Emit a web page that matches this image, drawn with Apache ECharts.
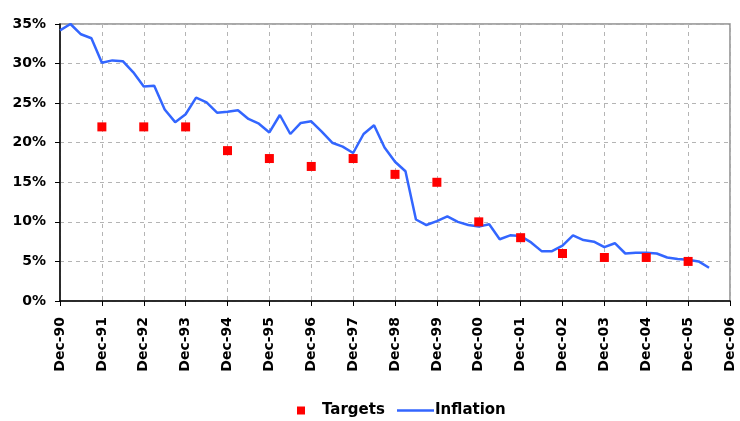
<!DOCTYPE html>
<html>
<head>
<meta charset="utf-8">
<script src="https://cdn.jsdelivr.net/npm/echarts@6/dist/echarts.min.js"></script>
<style>
  html, body { margin: 0; padding: 0; background: #fff; }
  #main { width: 740px; height: 421px; }
</style>
</head>
<body>
<div id="main"></div>
<script>
// year ticks on the x axis (one every 4 quarters)
var tickLabels = ['Dec-90', 'Dec-91', 'Dec-92', 'Dec-93', 'Dec-94', 'Dec-95', 'Dec-96', 'Dec-97',
    'Dec-98', 'Dec-99', 'Dec-00', 'Dec-01', 'Dec-02', 'Dec-03', 'Dec-04', 'Dec-05', 'Dec-06'];
var quarterNames = ['Dec', 'Mar', 'Jun', 'Sep'];

// quarterly inflation, Dec-90 .. Jun-06 (%)
var inflation = [34.2, 35.0, 33.7, 33.2, 30.1, 30.4, 30.3, 28.9, 27.1, 27.2, 24.2, 22.6,
    23.6, 25.7, 25.1, 23.8, 23.9, 24.1, 23.0, 22.4, 21.3, 23.5, 21.1, 22.5,
    22.7, 21.4, 20.0, 19.5, 18.7, 21.1, 22.2, 19.4, 17.6, 16.4, 10.3, 9.6,
    10.1, 10.7, 10.0, 9.6, 9.4, 9.7, 7.8, 8.3, 8.2, 7.4, 6.3, 6.3,
    7.0, 8.3, 7.7, 7.5, 6.8, 7.3, 6.0, 6.1, 6.1, 6.0, 5.5, 5.3,
    5.2, 5.0, 4.2];

// year-end targets, Dec-91 .. Dec-05 (%)
var targetYears = ['Dec-91', 'Dec-92', 'Dec-93', 'Dec-94', 'Dec-95', 'Dec-96', 'Dec-97', 'Dec-98',
    'Dec-99', 'Dec-00', 'Dec-01', 'Dec-02', 'Dec-03', 'Dec-04', 'Dec-05'];
var targets = [22, 22, 22, 19, 18, 17, 18, 16, 15, 10, 8, 6, 5.5, 5.5, 5];

// build quarterly categories from the year ticks
var categories = [];
for (var i = 0; i < tickLabels.length; i++) {
    categories.push(tickLabels[i]);
    if (i < tickLabels.length - 1) {
        var next = tickLabels[i + 1].split('-')[1];
        for (var q = 1; q < 4; q++) {
            categories.push(quarterNames[q] + '-' + next);
        }
    }
}

var targetData = [];
for (var j = 0; j < targetYears.length; j++) {
    targetData.push([targetYears[j], targets[j]]);
}
var inflationData = [];
for (var k = 0; k < inflation.length; k++) {
    inflationData.push([categories[k], inflation[k]]);
}

var font = 'DejaVu Sans';
var chart = echarts.init(document.getElementById('main'), null, { renderer: 'canvas' });
var option = {
    animation: false,
    backgroundColor: '#fff',
    grid: {
        left: 60,
        right: 10,
        top: 24,
        bottom: 120,
        show: true,
        borderColor: '#8c8c8c',
        borderWidth: 1.5
    },
    legend: [{
        data: ['Targets'],
        left: 297,
        top: 403,
        padding: 0,
        itemWidth: 8,
        itemHeight: 8,
        textStyle: { fontFamily: font, fontWeight: 'bold', fontSize: 15, color: '#000', padding: [0, 0, 0, 12] }
    }, {
        data: [{ name: 'Inflation', icon: 'rect' }],
        left: 397,
        top: 403,
        padding: 0,
        itemWidth: 37,
        itemHeight: 2.5,
        textStyle: { fontFamily: font, fontWeight: 'bold', fontSize: 15, color: '#000', padding: [0, 0, 0, -4] }
    }],
    xAxis: {
        type: 'category',
        data: categories,
        boundaryGap: false,
        axisLine: { lineStyle: { color: '#000', width: 1.5 } },
        axisTick: { interval: 3, length: 5, lineStyle: { color: '#000' } },
        axisLabel: {
            interval: 3,
            rotate: 90,
            margin: 16,
            fontFamily: font,
            fontWeight: 'bold',
            fontSize: 14,
            color: '#000'
        },
        splitLine: {
            show: true,
            interval: 3,
            lineStyle: { color: '#b4b4b4', type: [4, 4], width: 1 }
        }
    },
    yAxis: {
        type: 'value',
        min: 0,
        max: 35,
        interval: 5,
        axisLine: { show: true, lineStyle: { color: '#000', width: 1.5 } },
        axisTick: { show: true, length: 5, lineStyle: { color: '#000' } },
        axisLabel: {
            formatter: '{value}%',
            margin: 14,
            fontFamily: font,
            fontWeight: 'bold',
            fontSize: 14,
            color: '#000'
        },
        splitLine: { lineStyle: { color: '#b4b4b4', type: [4, 4], width: 1 } }
    },
    series: [{
        name: 'Targets',
        type: 'scatter',
        symbol: 'rect',
        symbolSize: 9,
        itemStyle: { color: '#ff0000', opacity: 1 },
        data: targetData,
        z: 3
    }, {
        name: 'Inflation',
        type: 'line',
        symbol: 'none',
        lineStyle: { color: '#3366ff', width: 2.5 },
        itemStyle: { color: '#3366ff' },
        data: inflationData,
        z: 2
    }]
};
chart.setOption(option);
</script>
</body>
</html>
